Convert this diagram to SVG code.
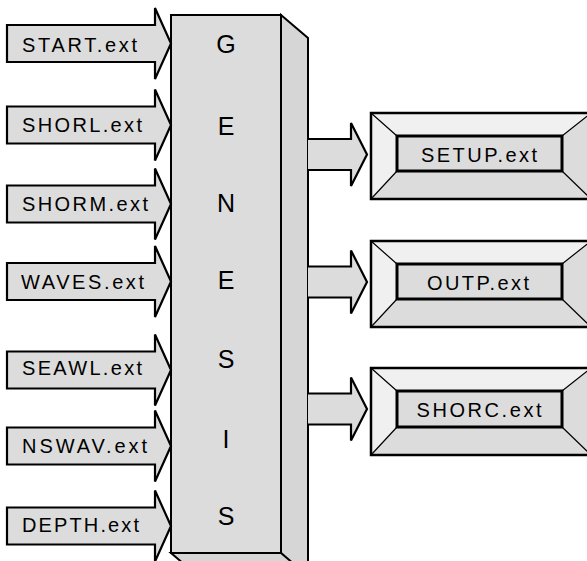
<svg xmlns="http://www.w3.org/2000/svg" width="587" height="561" viewBox="0 0 587 561">
<style>
.ar{fill:#dcdcdc;stroke:#000;stroke-width:2.2;stroke-linejoin:miter}
.lbl{font-family:"Liberation Sans",Arial,sans-serif;font-size:20px;fill:#000}
.big{font-family:"Liberation Sans",Arial,sans-serif;font-size:25px;fill:#000;text-anchor:middle}
.face{fill:#dcdcdc;stroke:#000;stroke-width:2}
.side{fill:#d6d6d6;stroke:#000;stroke-width:2}
.bt{fill:#f0f0f0}
.bb{fill:#dcdcdc}
.bev{stroke:#000;stroke-width:1.2;fill:none}
.outer{fill:none;stroke:#000;stroke-width:2.5}
.inner{fill:#dcdcdc;stroke:#000;stroke-width:3}
</style>
<rect width="587" height="561" fill="#fff"/>
<g id="genesis">
<polygon class="side" points="281,15 308,38 308,580 281,553"/>
<polygon class="side" points="171,553 281,553 308,576 198,576"/>
<rect class="face" x="171" y="15" width="110" height="538"/>
<text class="big" x="226" y="53">G</text>
<text class="big" x="226" y="135">E</text>
<text class="big" x="226" y="212">N</text>
<text class="big" x="226" y="289">E</text>
<text class="big" x="226" y="368">S</text>
<text class="big" x="226" y="448">I</text>
<text class="big" x="226" y="525">S</text>
</g>
<g id="connectors">
<path class="ar" d="M7,25 H155 V8 L171,43.5 L155,79 V62 H7 Z"/>
<path class="ar" d="M7,106.5 H155 V89.5 L171,125 L155,160.5 V143.5 H7 Z"/>
<path class="ar" d="M7,185.5 H155 V168.5 L171,204 L155,239.5 V222.5 H7 Z"/>
<path class="ar" d="M7,263 H155 V246 L171,281.5 L155,317 V300 H7 Z"/>
<path class="ar" d="M7,351.5 H155 V334.5 L171,370 L155,405.5 V388.5 H7 Z"/>
<path class="ar" d="M7,427.5 H155 V410.5 L171,446 L155,481.5 V464.5 H7 Z"/>
<path class="ar" d="M7,507.5 H155 V490.5 L171,526 L155,561.5 V544.5 H7 Z"/>
<path class="ar" d="M308,139 H351 V123 L367,154.5 L351,186 V170 H308"/>
<path class="ar" d="M308,266.5 H351 V250.5 L367,282 L351,313.5 V297.5 H308"/>
<path class="ar" d="M308,393.5 H351 V377.5 L367,409 L351,440.5 V424.5 H308"/>
</g>
<g id="in-start"><text class="lbl" x="22" y="51.5" textLength="115" lengthAdjust="spacing">START.ext</text></g>
<g id="in-shorl"><text class="lbl" x="22" y="132" textLength="120" lengthAdjust="spacing">SHORL.ext</text></g>
<g id="in-shorm"><text class="lbl" x="22" y="211" textLength="126" lengthAdjust="spacing">SHORM.ext</text></g>
<g id="in-waves"><text class="lbl" x="21" y="289" textLength="123" lengthAdjust="spacing">WAVES.ext</text></g>
<g id="in-seawl"><text class="lbl" x="22" y="375" textLength="120" lengthAdjust="spacing">SEAWL.ext</text></g>
<g id="in-nswav"><text class="lbl" x="22" y="453" textLength="125" lengthAdjust="spacing">NSWAV.ext</text></g>
<g id="in-depth"><text class="lbl" x="22" y="532" textLength="117" lengthAdjust="spacing">DEPTH.ext</text></g>
<g id="out-setup">
<rect class="bb" x="371" y="113" width="220" height="86"/>
<polygon class="bt" points="371,113 591,113 562,136 397,136"/>
<polygon class="bt" points="371,113 397,136 397,171 371,199"/>
<path class="bev" d="M371,113 L397,136 M591,113 L562,136 M371,199 L397,171 M591,199 L562,171"/>
<rect class="outer" x="371" y="113" width="220" height="86"/>
<rect class="inner" x="397" y="136" width="165" height="35"/>
<text class="lbl" x="479" y="162" text-anchor="middle" textLength="116" lengthAdjust="spacing">SETUP.ext</text>
</g>
<g id="out-outp">
<rect class="bb" x="371" y="241" width="220" height="86"/>
<polygon class="bt" points="371,241 591,241 562,264 397,264"/>
<polygon class="bt" points="371,241 397,264 397,299 371,327"/>
<path class="bev" d="M371,241 L397,264 M591,241 L562,264 M371,327 L397,299 M591,327 L562,299"/>
<rect class="outer" x="371" y="241" width="220" height="86"/>
<rect class="inner" x="397" y="264" width="165" height="35"/>
<text class="lbl" x="478" y="290" text-anchor="middle" textLength="102" lengthAdjust="spacing">OUTP.ext</text>
</g>
<g id="out-shorc">
<rect class="bb" x="371" y="368" width="220" height="87"/>
<polygon class="bt" points="371,368 591,368 562,391 397,391"/>
<polygon class="bt" points="371,368 397,391 397,427 371,455"/>
<path class="bev" d="M371,368 L397,391 M591,368 L562,391 M371,455 L397,427 M591,455 L562,427"/>
<rect class="outer" x="371" y="368" width="220" height="87"/>
<rect class="inner" x="397" y="391" width="165" height="36"/>
<text class="lbl" x="479" y="417" text-anchor="middle" textLength="125" lengthAdjust="spacing">SHORC.ext</text>
</g>
</svg>
